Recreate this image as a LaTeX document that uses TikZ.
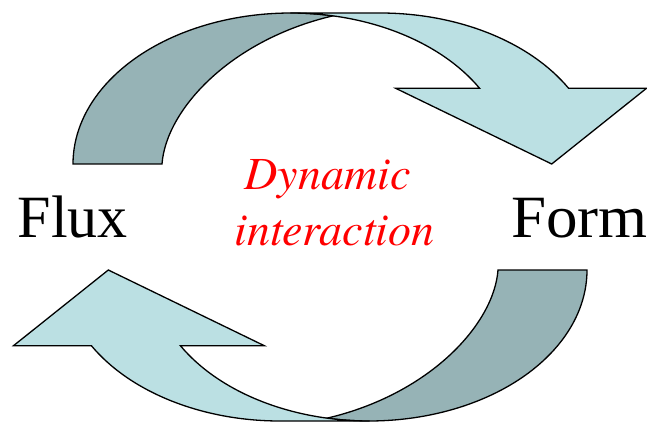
\documentclass[tikz,border=0pt]{standalone}
\usepackage{fontspec}
\setmainfont{Liberation Serif}
\newfontfamily\redserif{texgyretermes-italic}[Extension=.otf]
\definecolor{arrowlight}{RGB}{187,224,227}
\definecolor{arrowdark}{RGB}{150,179,182}
\newcommand\curvedhalf{%
  \path[band,fill=arrowdark] (73,164)
    arc[start angle=180,end angle=281.1,x radius=218,y radius=151]
    .. controls (230,40) and (166,110) .. (162,164) -- cycle;
  \path[band,fill=arrowlight] (291,13) -- (380,13)
    arc[start angle=270,end angle=329.9,x radius=218,y radius=151]
    -- (646.5,88.3) -- (551.7,164) -- (395.7,88.3) -- (479.6,88.3)
    arc[start angle=329.9,end angle=270,x radius=218,y radius=151]
    -- cycle;
}
\begin{document}
\begin{tikzpicture}[x=1pt,y=-1pt,
  band/.style={draw=black,line width=1.3pt,line join=miter},
  bigword/.style={anchor=base west,inner sep=0pt,font=\fontsize{60}{60}\selectfont},
  redword/.style={anchor=base,inner sep=0pt,text=red,font=\redserif\fontsize{46}{46}\selectfont}]
\useasboundingbox (0,0) rectangle (647,422);
\curvedhalf
\begin{scope}[rotate around={180:(330,217)}]
\curvedhalf
\end{scope}
\node[bigword] (flux) at (17.5,237.3) {Flux};
\begin{scope}[shift={(511,237.3)},xscale=1.05]
\node[bigword,transform shape] (form) at (0,0) {Form};
\end{scope}
\node[redword] (dyn) at (327.5,189.3) {Dynamic};
\node[redword] (inter) at (334.5,245) {interaction};
\end{tikzpicture}
\end{document}
